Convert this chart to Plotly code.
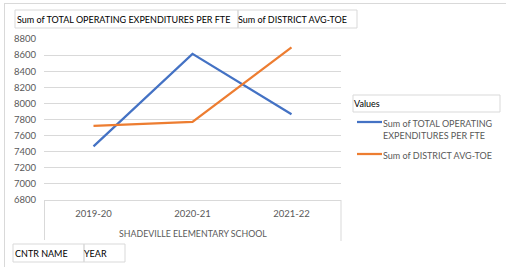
import plotly.graph_objects as go

years = ["2019-20", "2020-21", "2021-22"]
total_opex_per_fte = [7467, 8615, 7865]
district_avg_toe = [7721, 7770, 8696]
series_names = ["Sum of TOTAL OPERATING<br>EXPENDITURES PER FTE", "Sum of DISTRICT AVG-TOE"]
series_colors = ["#4472C4", "#ED7D31"]
school = "SHADEVILLE ELEMENTARY SCHOOL"
y_ticks = list(range(6800, 8801, 200))

W, H = 506, 267
L, R, T, B = 44, 341, 39, 200
FONT = "Lato"
GRAY = "#d9d9d9"
TXT = "#595959"


def px(x):
    return (x - L) / (R - L)


def py(y):
    return (B - y) / (B - T)


fig = go.Figure()
for vals, name, col in zip([total_opex_per_fte, district_avg_toe], series_names, series_colors):
    fig.add_trace(go.Scatter(x=years, y=vals, mode="lines", name=name.replace("<br>", " "),
                             line=dict(color=col, width=2.25), showlegend=False))

shapes = []


def box(x0, y0, x1, y1):
    shapes.append(dict(type="rect", xref="paper", yref="paper", x0=px(x0), x1=px(x1),
                       y0=py(y0), y1=py(y1), line=dict(color=GRAY, width=1), layer="above"))


def line(x0, y0, x1, y1, color=GRAY, width=1):
    shapes.append(dict(type="line", xref="paper", yref="paper", x0=px(x0), x1=px(x1),
                       y0=py(y0), y1=py(y1), line=dict(color=color, width=width), layer="above"))


# outer chart border (top, left)
line(4, 3.5, 506, 3.5)
line(4.5, 3, 4.5, 267)
# field buttons
box(15, 10, 238, 28)
box(238, 10, 357, 28)
box(13, 244, 84, 262)
box(84, 244, 125, 262)
# legend title box
box(353, 95, 500, 112)
# category box
line(44, 200.5, 341, 200.5)
line(44.5, 200, 44.5, 240)
line(341, 200, 341, 241)

annotations = []


def text(s, x, y, size=9, color="#000000", xanchor="left", yanchor="middle"):
    annotations.append(dict(text=s, xref="paper", yref="paper", x=px(x), y=py(y),
                            xanchor=xanchor, yanchor=yanchor, showarrow=False, align="left",
                            font=dict(family=FONT, size=size, color=color)))


text("Sum of TOTAL OPERATING EXPENDITURES PER FTE", 15, 19.5, size=9)
text("Sum of DISTRICT AVG-TOE", 236, 19.5, size=9)
text("CNTR NAME", 13, 253.5)
text("YEAR", 82, 253.5)
text("Values", 352, 103.5)
text(school, 192.5, 233, size=8.8, color=TXT, xanchor="center")

# legend entries
legend_rows = [122, 154]
for name, col, yy in zip(series_names, series_colors, legend_rows):
    line(357, yy, 382, yy, color=col, width=2.25)
    annotations.append(dict(text=name, xref="paper", yref="paper", x=px(381), y=py(yy - 6.5),
                            xanchor="left", yanchor="top", showarrow=False, align="left",
                            font=dict(family=FONT, size=9, color=TXT)))

fig.update_layout(
    width=W, height=H,
    margin=dict(l=L, r=W - R, t=T, b=H - B),
    paper_bgcolor="white", plot_bgcolor="white",
    font=dict(family=FONT, color=TXT),
    shapes=shapes, annotations=annotations,
    showlegend=False,
    xaxis=dict(type="category", range=[-0.5, 2.5], showgrid=False, zeroline=False,
               showline=False, ticks="", tickfont=dict(family=FONT, size=9.5, color=TXT),
               ticklabelstandoff=6, fixedrange=True),
    yaxis=dict(range=[6800, 8800], tickvals=y_ticks, showgrid=True, gridcolor=GRAY,
               gridwidth=1, zeroline=False, showline=False, ticks="",
               tickfont=dict(family=FONT, size=9.5, color=TXT), ticklabelstandoff=7,
               fixedrange=True),
)

fig.write_html("out.html", config={"displayModeBar": False},
               post_script="document.body.style.margin='0';")
